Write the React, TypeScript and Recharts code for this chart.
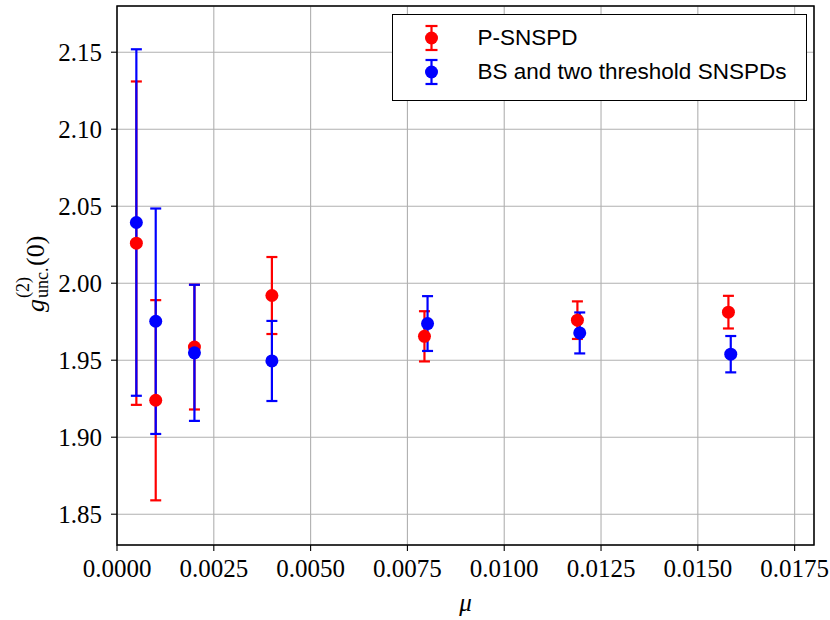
import {
  CartesianGrid,
  ErrorBar,
  Legend,
  ReferenceArea,
  Scatter,
  ScatterChart,
  XAxis,
  YAxis,
} from 'recharts';

// mu values, g2 and symmetric error for each detector setup
const muPSnspd = [0.0005, 0.001, 0.002, 0.004, 0.00794, 0.01189, 0.01579];
const g2PSnspd = [2.026, 1.924, 1.9585, 1.992, 1.9655, 1.976, 1.9812];
const errPSnspd = [0.105, 0.065, 0.0405, 0.025, 0.0163, 0.0122, 0.0106];

const muBs = [0.0005, 0.001, 0.002, 0.004, 0.00802, 0.01195, 0.01585];
const g2Bs = [2.0394, 1.9753, 1.9548, 1.9495, 1.9738, 1.9677, 1.9539];
const errBs = [0.1125, 0.0732, 0.0442, 0.026, 0.0178, 0.0133, 0.0118];

const seriesNames = ['P-SNSPD', 'BS and two threshold SNSPDs'];
const seriesColors = ['#ff0000', '#0000ff'];

const xTicks = [0, 0.0025, 0.005, 0.0075, 0.01, 0.0125, 0.015, 0.0175];
const yTicks = [1.85, 1.9, 1.95, 2.0, 2.05, 2.1, 2.15];
const xDomain = [0, 0.018];
const yDomain = [1.83, 2.18];

const toRows = (mu: number[], g2: number[], err: number[]) =>
  mu.map((m, i) => ({ mu: m, g2: g2[i], err: err[i] }));

const pData = toRows(muPSnspd, g2PSnspd, errPSnspd);
const bData = toRows(muBs, g2Bs, errBs);

const serif = 'Liberation Serif, DejaVu Serif, serif';
const tickStyle = { fontFamily: serif, fontSize: 25, fill: '#000' };

const noShape = () => <g />;
const dotShape = (color: string) => (props: any) =>
  <circle cx={props.cx} cy={props.cy} r={6.5} fill={color} />;

function LegendBox() {
  return (
    <div
      style={{
        boxSizing: 'border-box',
        width: 415,
        height: 87,
        border: '1.5px solid #000',
        background: '#fff',
        paddingTop: 5.5,
        fontFamily: 'Liberation Sans, Arial, sans-serif',
        fontSize: 22.5,
        color: '#000',
      }}
    >
      {seriesNames.map((name, i) => (
        <div key={name} style={{ display: 'flex', alignItems: 'center', height: 34 }}>
          <svg width={84.5} height={34} style={{ flex: 'none' }}>
            <g stroke={seriesColors[i]} strokeWidth={2.2}>
              <line x1={38.5} y1={5} x2={38.5} y2={29} />
              <line x1={32.5} y1={5} x2={44.5} y2={5} />
              <line x1={32.5} y1={29} x2={44.5} y2={29} />
            </g>
            <circle cx={38.5} cy={17} r={6.5} fill={seriesColors[i]} />
          </svg>
          <span>{name}</span>
        </div>
      ))}
    </div>
  );
}

function YLabel() {
  return (
    <g transform="translate(44, 312) rotate(-90)" fontFamily={serif} fill="#000">
      <text x={0} y={0} fontSize={26} fontStyle="italic">g</text>
      <text x={14} y={-15} fontSize={18}>(2)</text>
      <text x={14} y={4} fontSize={18}>unc.</text>
      <text x={46} y={0} fontSize={26}>(0)</text>
    </g>
  );
}

export default function App() {
  return (
    <div style={{ position: 'absolute', left: 0, top: 0, width: 830, height: 620, background: '#fff' }}>
      <ScatterChart width={830} height={620} margin={{ top: 6, right: 16, bottom: 0, left: 0 }}>
        <CartesianGrid stroke="#b0b0b0" strokeWidth={1.1} />
        <XAxis
          type="number"
          dataKey="mu"
          domain={xDomain}
          ticks={xTicks}
          allowDataOverflow
          height={75}
          axisLine={false}
          tickLine={{ stroke: '#000', strokeWidth: 1.1 }}
          tickSize={6}
          tickMargin={8}
          tick={tickStyle}
          tickFormatter={(v: number) => v.toFixed(4)}
          label={{
            value: 'μ',
            position: 'insideBottom',
            offset: 9,
            style: { fontFamily: serif, fontSize: 25, fontStyle: 'italic', fill: '#000' },
          }}
        />
        <YAxis
          type="number"
          dataKey="g2"
          domain={yDomain}
          ticks={yTicks}
          allowDataOverflow
          width={117}
          axisLine={false}
          tickLine={{ stroke: '#000', strokeWidth: 1.1 }}
          tickSize={6}
          tickMargin={9}
          tick={tickStyle}
          tickFormatter={(v: number) => v.toFixed(2)}
          label={{ content: () => <YLabel /> }}
        />
        <ReferenceArea
          x1={xDomain[0]}
          x2={xDomain[1]}
          y1={yDomain[0]}
          y2={yDomain[1]}
          fill="none"
          stroke="#000"
          strokeWidth={1.5}
          strokeOpacity={1}
        />
        <Scatter data={pData} shape={noShape} isAnimationActive={false} legendType="none">
          <ErrorBar dataKey="err" direction="y" width={5.5} stroke={seriesColors[0]} strokeWidth={2.2} isAnimationActive={false} />
        </Scatter>
        <Scatter data={bData} shape={noShape} isAnimationActive={false} legendType="none">
          <ErrorBar dataKey="err" direction="y" width={5.5} stroke={seriesColors[1]} strokeWidth={2.2} isAnimationActive={false} />
        </Scatter>
        <Scatter name={seriesNames[0]} data={pData} shape={dotShape(seriesColors[0])} isAnimationActive={false} />
        <Scatter name={seriesNames[1]} data={bData} shape={dotShape(seriesColors[1])} isAnimationActive={false} />
        <Legend
          layout="vertical"
          align="center"
          verticalAlign="middle"
          wrapperStyle={{ position: 'absolute', top: 14, left: 392, width: 415, height: 87 }}
          content={() => <LegendBox />}
        />
      </ScatterChart>
    </div>
  );
}
